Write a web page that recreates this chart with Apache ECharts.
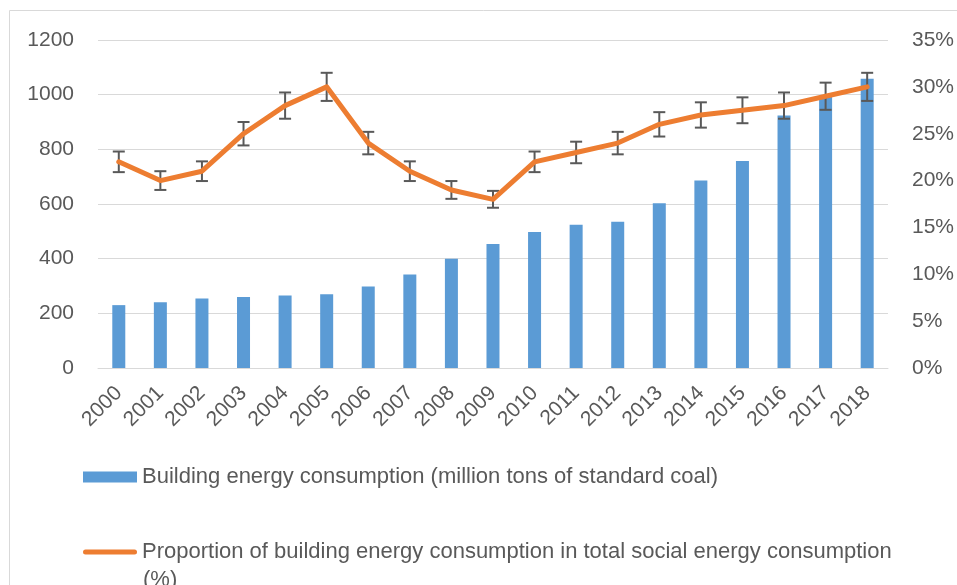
<!DOCTYPE html>
<html lang="en">
<head>
<meta charset="UTF-8">
<title>Building energy consumption</title>
<script src="https://cdn.jsdelivr.net/npm/echarts@6/dist/echarts.min.js"></script>
<style>
  html, body { margin: 0; padding: 0; background: #fff; }
  #main { width: 957px; height: 585px; }
</style>
</head>
<body>
<div id="main"></div>
<script type="text/javascript">
// data
var years = ['2000', '2001', '2002', '2003', '2004', '2005', '2006', '2007', '2008', '2009',
             '2010', '2011', '2012', '2013', '2014', '2015', '2016', '2017', '2018'];
// million tons of standard coal
var consumption = [230, 241, 254, 260, 265, 270, 298, 342, 400, 454,
                   498, 524, 535, 603, 686, 757, 924, 995, 1058];
// share of total social energy consumption, %
var share = [22, 20, 21, 25, 28, 30, 24, 21, 19, 18,
             22, 23, 24, 26, 27, 27.5, 28, 29, 30];
// error bar half-length, % points
var shareErr = [1.1, 1.0, 1.05, 1.25, 1.4, 1.5, 1.2, 1.05, 0.95, 0.9,
                1.1, 1.15, 1.2, 1.3, 1.35, 1.38, 1.4, 1.45, 1.5];
var leftTicks = [0, 200, 400, 600, 800, 1000, 1200];
var rightTicks = [0, 5, 10, 15, 20, 25, 30, 35];

var barName = 'Building energy consumption (million tons of standard coal)';
var lineName = 'Proportion of building energy consumption in total social energy consumption (%)';

var FONT = 'Liberation Sans';
var GREY = '#595959';

var errData = [];
for (var i = 0; i < years.length; i++) {
  errData.push([i, share[i], shareErr[i]]);
}

var dom = document.getElementById('main');
var myChart = echarts.init(dom);

var option = {
  animation: false,
  textStyle: { fontFamily: FONT },
  grid: { left: 98, right: 69, top: 40, bottom: 217 },
  graphic: [
    {
      type: 'rect', silent: true, z: -1,
      shape: { x: 9.5, y: 10.5, width: 1000, height: 700 },
      style: { fill: 'none', stroke: '#d9d9d9', lineWidth: 1 }
    },
    {
      // wrapped tail of the second legend entry
      type: 'text', left: 143, top: 569,
      style: { text: '(%)', fontFamily: FONT, fontSize: 22, fill: GREY }
    }
  ],
  legend: {
    orient: 'vertical',
    left: 78,
    top: 460,
    itemWidth: 54,
    itemHeight: 11,
    itemGap: 51,
    selectedMode: false,
    data: [
      { name: barName, icon: 'rect' },
      { name: lineName, icon: 'path://M2.5,0 L51.5,0 Q54,0 54,2.5 Q54,5 51.5,5 L2.5,5 Q0,5 0,2.5 Q0,0 2.5,0 Z' }
    ],
    formatter: function (name) {
      return name === lineName ? name.replace(' (%)', '') : name;
    },
    textStyle: { fontFamily: FONT, fontSize: 22, color: GREY, lineHeight: 24 }
  },
  xAxis: {
    type: 'category',
    data: years,
    axisLine: { lineStyle: { color: '#d9d9d9', width: 1 } },
    axisTick: { show: false },
    axisLabel: { rotate: 45, color: GREY, fontSize: 21, fontFamily: FONT, margin: 22 }
  },
  yAxis: [
    {
      type: 'value',
      min: leftTicks[0],
      max: leftTicks[leftTicks.length - 1],
      interval: 200,
      axisLine: { show: false },
      axisTick: { show: false },
      splitLine: { lineStyle: { color: '#d9d9d9', width: 1 } },
      axisLabel: {
        color: GREY, fontSize: 21, fontFamily: FONT, margin: 24,
        formatter: function (v) { return String(v); }
      }
    },
    {
      type: 'value',
      min: rightTicks[0],
      max: rightTicks[rightTicks.length - 1],
      interval: 5,
      axisLine: { show: false },
      axisTick: { show: false },
      splitLine: { show: false },
      axisLabel: { color: GREY, fontSize: 21, fontFamily: FONT, margin: 24, formatter: '{value}%' }
    }
  ],
  series: [
    {
      name: barName,
      type: 'bar',
      barWidth: 13,
      data: consumption,
      itemStyle: { color: '#5b9bd5' },
      z: 2
    },
    {
      name: 'error',
      type: 'custom',
      yAxisIndex: 1,
      data: errData,
      z: 3,
      renderItem: function (params, api) {
        var idx = api.value(0);
        var v = api.value(1);
        var e = api.value(2);
        var top = api.coord([idx, v + e]);
        var bot = api.coord([idx, v - e]);
        var x = top[0];
        var half = 6;
        var st = { stroke: GREY, lineWidth: 2 };
        return {
          type: 'group',
          children: [
            { type: 'line', shape: { x1: x, y1: top[1], x2: x, y2: bot[1] }, style: st },
            { type: 'line', shape: { x1: x - half, y1: top[1], x2: x + half, y2: top[1] }, style: st },
            { type: 'line', shape: { x1: x - half, y1: bot[1], x2: x + half, y2: bot[1] }, style: st }
          ]
        };
      }
    },
    {
      name: lineName,
      type: 'line',
      yAxisIndex: 1,
      data: share,
      symbol: 'none',
      lineStyle: { color: '#ed7d31', width: 5, cap: 'round', join: 'round' },
      itemStyle: { color: '#ed7d31' },
      z: 4
    }
  ]
};

myChart.setOption(option);
</script>
</body>
</html>
